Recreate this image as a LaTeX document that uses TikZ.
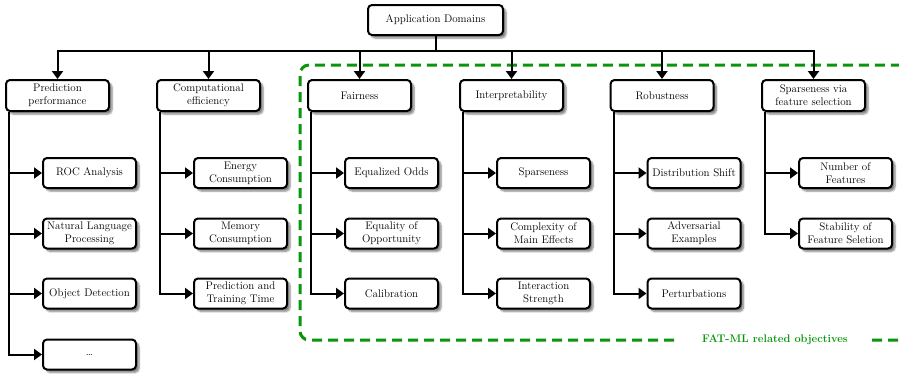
\documentclass[tikz,border=0pt]{standalone}
\usetikzlibrary{arrows.meta,shadows.blur}
\definecolor{fatgreen}{RGB}{10,150,10}
\begin{document}
\begin{tikzpicture}[x=1pt,y=-1pt, font=\fontsize{11}{13}\selectfont,
 box/.style={draw, line width=2pt, rounded corners=4pt, fill=white, align=center, inner sep=1pt,
   blur shadow={shadow xshift=3pt, shadow yshift=-3pt, shadow blur steps=6, shadow opacity=50}},
 lone/.style={box, minimum width=103pt, minimum height=31pt},
 ltwo/.style={box, minimum width=93pt, minimum height=30pt},
 conn/.style={line width=2pt, -{Triangle[length=8pt,width=11pt]}},
 fatml/.style={draw=fatgreen, line width=3pt, dash pattern=on 10pt off 6pt},
]
\useasboundingbox (0,0) rectangle (899,375);
\clip (0,0) rectangle (899,375);

% FAT-ML region
\draw[fatml, rounded corners=9pt] (930,340) -- (300,340) -- (300,65) -- (930,65);
\node[fill=white, text=fatgreen, font=\fontsize{11}{13}\selectfont\bfseries, inner xsep=22pt, inner ysep=3pt] (fatlabel) at (775,340) {FAT-ML related objectives};

% root
\node[box, minimum width=135pt, minimum height=30pt] (root) at (435.5,20) {Application Domains};

% level 1
\node[lone] (pp) at (57.5,95.5) {Prediction\\performance};
\node[lone] (ce) at (208.5,95.5) {Computational\\efficiency};
\node[lone] (fa) at (359.5,95.5) {Fairness};
\node[lone] (in) at (511.5,95.5) {Interpretability};
\node[lone] (ro) at (662,95.5) {Robustness};
\node[lone] (sp) at (813.5,95.5) {Sparseness via\\feature selection};

\foreach \n in {pp,ce,fa,in,ro,sp}
  \draw[conn] (root.south) -- ++(0,15) -| (\n.north);

% level 2
\node[ltwo] (pp1) at (89.5,173) {ROC Analysis};
\node[ltwo] (pp2) at (89.5,233.5) {Natural Language\\Processing};
\node[ltwo] (pp3) at (89.5,293.5) {Object Detection};
\node[ltwo] (pp4) at (89.5,354.5) {\dots};

\node[ltwo] (ce1) at (240.5,173) {Energy\\Consumption};
\node[ltwo] (ce2) at (240.5,233.5) {Memory\\Consumption};
\node[ltwo] (ce3) at (240.5,293.5) {Prediction and\\Training Time};

\node[ltwo] (fa1) at (391.5,173) {Equalized Odds};
\node[ltwo] (fa2) at (391.5,233.5) {Equality of\\Opportunity};
\node[ltwo] (fa3) at (391.5,293.5) {Calibration};

\node[ltwo] (in1) at (543.5,173) {Sparseness};
\node[ltwo] (in2) at (543.5,233.5) {Complexity of\\Main Effects};
\node[ltwo] (in3) at (543.5,293.5) {Interaction\\Strength};

\node[ltwo] (ro1) at (694,173) {Distribution Shift};
\node[ltwo] (ro2) at (694,233.5) {Adversarial\\Examples};
\node[ltwo] (ro3) at (694,293.5) {Perturbations};

\node[ltwo] (sp1) at (845.5,173) {Number of\\Features};
\node[ltwo] (sp2) at (845.5,233.5) {Stability of\\Feature Seletion};

\foreach \p/\c in {pp/pp1,pp/pp2,pp/pp3,pp/pp4,ce/ce1,ce/ce2,ce/ce3,fa/fa1,fa/fa2,fa/fa3,in/in1,in/in2,in/in3,ro/ro1,ro/ro2,ro/ro3,sp/sp1,sp/sp2}
  \draw[conn] ([xshift=4pt]\p.south west) |- (\c.west);
\end{tikzpicture}
\end{document}
